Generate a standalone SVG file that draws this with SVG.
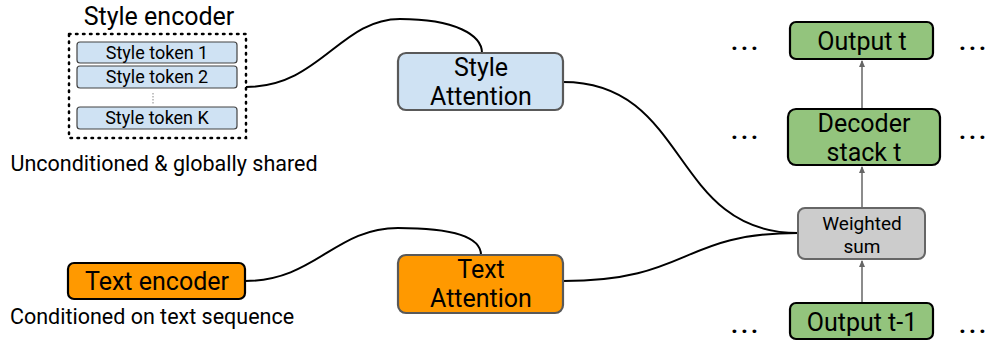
<svg xmlns="http://www.w3.org/2000/svg" width="988" height="344" viewBox="0 0 988 344">
<style>
text{font-family:Roboto,"Liberation Sans",sans-serif;fill:#000;text-anchor:middle}
.tok{fill:#cfe2f3;stroke:#434343;stroke-width:1.2}
.att{stroke:#595959;stroke-width:2.2}
.grn{fill:#93c47d;stroke:#000;stroke-width:2.2}
.c{fill:none;stroke:#000;stroke-width:2}
.a{fill:none;stroke:#666;stroke-width:1.5}
.m{font-size:25px}
.tk{font-size:18px}
.cap{font-size:21.5px}
.dots{font-size:24px;font-weight:bold;letter-spacing:3px}
</style>
<defs>
<marker id="ah" markerWidth="8" markerHeight="8" refX="6" refY="4" orient="auto" markerUnits="userSpaceOnUse"><path d="M0,1 L7,4 L0,7 z" fill="#666"/></marker>
</defs>
<rect width="988" height="344" fill="#fff"/>
<g id="connectors">
<path class="c" d="M246,87 C320,87 340,19 400,19 C455,19 482,35 482,53"/>
<path class="c" d="M563,82 C690,82 670,233 798,233"/>
<path class="c" d="M245,281 C315,281 335,228 398,228 C455,228 481,238 481,255"/>
<path class="c" d="M563,281 C690,281 680,233 798,233"/>
<path class="a" d="M862,109 L862,61" marker-end="url(#ah)"/>
<path class="a" d="M862,208 L862,167" marker-end="url(#ah)"/>
<path class="a" d="M862,303 L862,261" marker-end="url(#ah)"/>
</g>
<g id="style-encoder">
<text x="159" y="25" font-size="25">Style encoder</text>
<rect x="69" y="34" width="177" height="104" fill="none" stroke="#000" stroke-width="2.5" stroke-dasharray="1.5,5.5" stroke-linecap="round"/>
<rect class="tok" x="77" y="42" width="160" height="21" rx="3"/>
<text class="tk" x="157" y="59">Style token 1</text>
<rect class="tok" x="77" y="66" width="160" height="22" rx="3"/>
<text class="tk" x="157" y="83">Style token 2</text>
<line x1="153" y1="93" x2="153" y2="105" stroke="#888" stroke-width="1" stroke-dasharray="1.5,1.5"/>
<rect class="tok" x="77" y="107" width="160" height="22" rx="3"/>
<text class="tk" x="157" y="124">Style token K</text>
<text class="cap" x="164" y="171">Unconditioned &amp; globally shared</text>
</g>
<g id="style-attention">
<rect class="att" x="398" y="53" width="165" height="57" rx="8" fill="#cfe2f3"/>
<text class="m" x="481" y="76">Style</text>
<text class="m" x="481" y="105">Attention</text>
</g>
<g id="text-encoder">
<rect x="68" y="263" width="177" height="36" rx="6" fill="#ff9900" stroke="#000" stroke-width="2.2"/>
<text class="m" x="157" y="290">Text encoder</text>
<text class="cap" x="152" y="324">Conditioned on text sequence</text>
</g>
<g id="text-attention">
<rect class="att" x="398" y="255" width="165" height="58" rx="8" fill="#ff9900"/>
<text class="m" x="481" y="278">Text</text>
<text class="m" x="481" y="307">Attention</text>
</g>
<g id="output-t">
<rect class="grn" x="790" y="22" width="143" height="37" rx="6"/>
<text class="m" x="862" y="50">Output t</text>
</g>
<g id="decoder-stack">
<rect class="grn" x="788" y="109" width="152" height="56" rx="8"/>
<text class="m" x="864" y="132">Decoder</text>
<text class="m" x="864" y="161">stack t</text>
</g>
<g id="weighted-sum">
<rect x="798" y="208" width="127" height="51" rx="7" fill="#cccccc" stroke="#666" stroke-width="2"/>
<text x="862" y="230" font-size="19">Weighted</text>
<text x="862" y="253" font-size="19">sum</text>
</g>
<g id="output-t-1">
<rect class="grn" x="790" y="303" width="143" height="36" rx="6"/>
<text class="m" x="862" y="331">Output t-1</text>
</g>
<g id="ellipses">
<text class="dots" x="746" y="50">...</text>
<text class="dots" x="974" y="50">...</text>
<text class="dots" x="746" y="139">...</text>
<text class="dots" x="974" y="139">...</text>
<text class="dots" x="746" y="333">...</text>
<text class="dots" x="974" y="333">...</text>
</g>
</svg>
